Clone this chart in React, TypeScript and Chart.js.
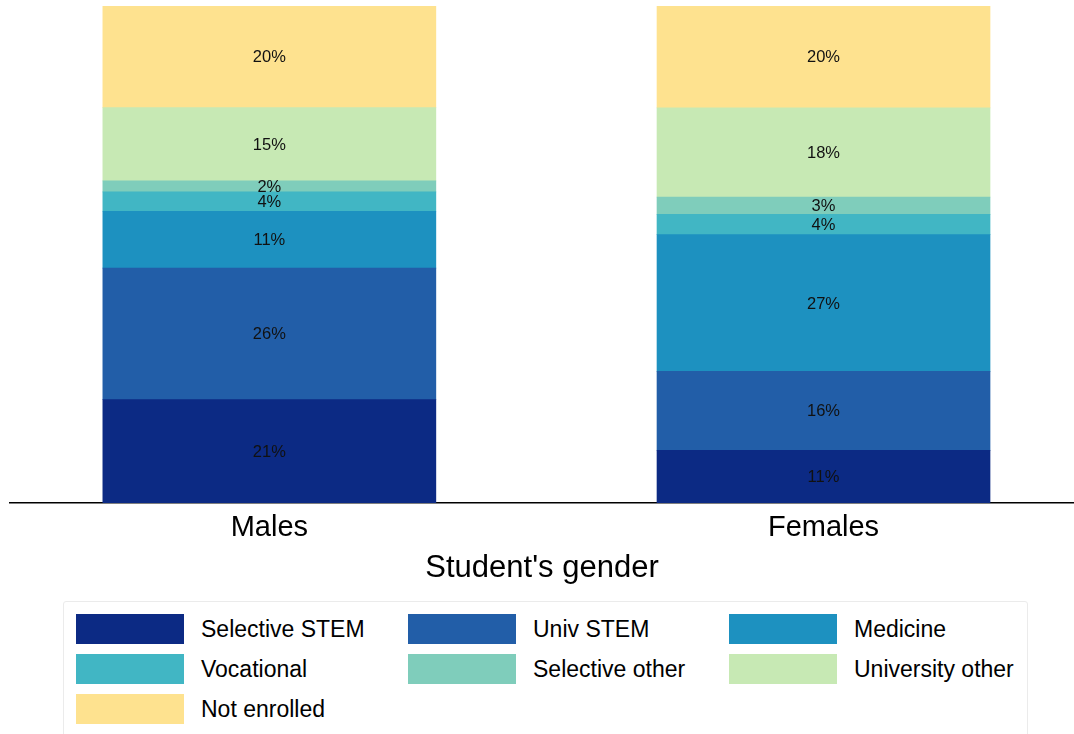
import React, { useEffect, useRef } from 'react';
import { Chart, registerables } from 'chart.js';

Chart.register(...registerables);

const categories = ['Males', 'Females'];
const seriesNames = [
  'Selective STEM',
  'Univ STEM',
  'Medicine',
  'Vocational',
  'Selective other',
  'University other',
  'Not enrolled',
];
const selectiveStem = [20.8, 10.6];
const univStem = [26.45, 15.9];
const medicine = [11.45, 27.49];
const vocational = [3.9, 4.08];
const selectiveOther = [2.2, 3.49];
const universityOther = [14.75, 17.95];
const notEnrolled = [20.45, 20.49];
const seriesValues = [
  selectiveStem,
  univStem,
  medicine,
  vocational,
  selectiveOther,
  universityOther,
  notEnrolled,
];
const colors = ['#0c2a84', '#225ea8', '#1d91c0', '#41b6c4', '#7fcdbb', '#c7e9b4', '#fee28f'];
const xAxisTitle = "Student's gender";

const FONT = '"Liberation Sans", Arial, Helvetica, sans-serif';

const valueLabels = {
  id: 'valueLabels',
  afterDatasetsDraw(chart: any) {
    const ctx = chart.ctx;
    ctx.save();
    ctx.font = `16.5px ${FONT}`;
    ctx.fillStyle = '#111';
    ctx.textAlign = 'center';
    ctx.textBaseline = 'middle';
    chart.data.datasets.forEach((ds: any, i: number) => {
      const meta = chart.getDatasetMeta(i);
      meta.data.forEach((el: any, j: number) => {
        const v = ds.data[j].y;
        const p = el.getProps(['x', 'y', 'base'], true);
        ctx.fillText(Math.round(v) + '%', p.x, (p.y + p.base) / 2 + 1);
      });
    });
    ctx.restore();
  },
};

export default function App() {
  const ref = useRef<HTMLCanvasElement | null>(null);

  useEffect(() => {
    if (!ref.current) return;
    const chart = new Chart(ref.current, {
      type: 'bar',
      data: {
        datasets: seriesNames.map((name, i) => ({
          label: name,
          data: seriesValues[i].map((v, j) => ({ x: j, y: v })),
          backgroundColor: colors[i],
          borderWidth: 0,
          barThickness: 333,
        })),
      },
      options: {
        animation: false,
        responsive: false,
        maintainAspectRatio: false,
        layout: { padding: { left: 10, right: 0, top: 6, bottom: 0 } },
        plugins: { legend: { display: false }, tooltip: { enabled: false } },
        scales: {
          x: {
            type: 'linear',
            offset: false,
            min: -0.468,
            max: 1.452,
            stacked: true,
            grid: { display: false, drawTicks: false, offset: false },
            border: { display: true, color: '#000', width: 1.5 },
            afterBuildTicks: (s: any) => {
              s.ticks = categories.map((_, i) => ({ value: i }));
            },
            ticks: {
              callback: (v: any) => categories[v] ?? '',
              font: { size: 29, family: FONT },
              color: '#000',
              padding: 8,
              maxRotation: 0,
              autoSkip: false,
            },
            title: {
              display: true,
              text: xAxisTitle,
              font: { size: 31, family: FONT },
              color: '#000',
              padding: { top: 4, bottom: 13 },
            },
            afterFit: (s: any) => {
              s.height = 97;
            },
          },
          y: { stacked: true, min: 0, max: 100, display: false },
        },
      },
      plugins: [valueLabels],
    } as any);
    return () => chart.destroy();
  }, []);

  const legendCols = [0, 332, 653];

  return (
    <div
      style={{
        position: 'fixed',
        left: 0,
        top: 0,
        width: 1074,
        height: 734,
        overflow: 'hidden',
        background: '#fff',
        fontFamily: FONT,
      }}
    >
      <canvas
        ref={ref}
        width={1074}
        height={600}
        style={{ position: 'absolute', left: 0, top: 0, width: 1074, height: 600 }}
      />
      <div
        style={{
          position: 'absolute',
          left: 63,
          top: 601,
          width: 965,
          height: 160,
          border: '1px solid #ebebeb',
          borderRadius: 3,
          boxSizing: 'border-box',
        }}
      />
      {seriesNames.map((name, i) => {
        const r = Math.floor(i / 3);
        const c = i % 3;
        return (
          <div
            key={name}
            style={{
              position: 'absolute',
              left: 76 + legendCols[c],
              top: 614 + 40 * r,
              height: 30,
              display: 'flex',
              alignItems: 'center',
              whiteSpace: 'nowrap',
            }}
          >
            <div style={{ width: 108, height: 30, background: colors[i], flex: 'none' }} />
            <span style={{ marginLeft: 17, fontSize: 23, color: '#000', lineHeight: '30px' }}>{name}</span>
          </div>
        );
      })}
    </div>
  );
}
